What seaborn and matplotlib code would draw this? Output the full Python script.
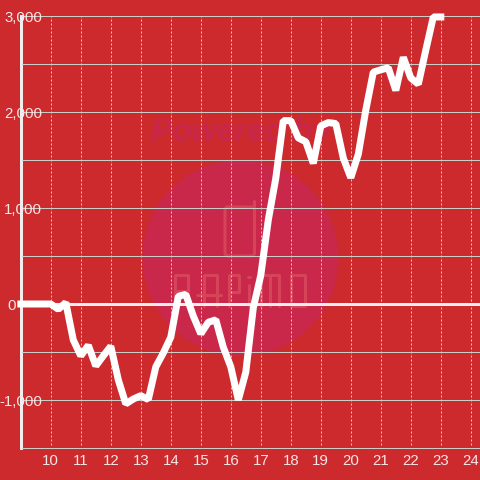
import matplotlib
matplotlib.use("Agg")
import matplotlib.pyplot as plt
import seaborn as sns
import pandas as pd
from matplotlib.patches import Circle, FancyBboxPatch
from matplotlib.lines import Line2D
from matplotlib.transforms import Affine2D

hours = [9.0, 10.0, 10.25, 10.5, 10.75, 11.0, 11.25, 11.5, 11.75, 12.0, 12.25, 12.5, 12.75,
         13.0, 13.25, 13.5, 13.75, 14.0, 14.25, 14.5, 14.75, 15.0, 15.25, 15.5, 15.75,
         16.0, 16.25, 16.5, 16.75, 17.0, 17.25, 17.5, 17.75, 18.0, 18.25, 18.5, 18.75,
         19.0, 19.25, 19.5, 19.75, 20.0, 20.25, 20.5, 20.75, 21.0, 21.25, 21.5, 21.75,
         22.0, 22.25, 22.5, 22.75, 23.0]
values = [0, 0, -55, 15, -375, -540, -430, -645, -540, -440, -790, -1040, -990,
          -955, -995, -655, -510, -345, 80, 100, -125, -310, -190, -165, -450,
          -655, -1000, -710, -40, 300, 875, 1310, 1910, 1910, 1730, 1690, 1465,
          1855, 1890, 1880, 1520, 1315, 1560, 2020, 2415, 2440, 2460, 2225, 2570,
          2355, 2290, 2645, 2990, 2990]
x_ticks = [10, 11, 12, 13, 14, 15, 16, 17, 18, 19, 20, 21, 22, 23, 24]
y_ticks = [3000, 2500, 2000, 1500, 1000, 500, 0, -500, -1000, -1500]
y_labels = ["3,000", "", "2,000", "", "1,000", "", "", "", "-1,000", ""]
zero_label = "0"

BG = "#CC2A2D"
CIRCLE = "#C9284A"
MARK = "#D54459"
GRID = "#CDCDC8"
TXT = "#F8E6E6"
AXIS = "#F2EEEE"
PX = 0.72

sns.set_theme(style="white")
plt.rcParams["font.family"] = ["Liberation Sans", "DejaVu Sans"]
plt.rcParams["lines.scale_dashes"] = False

fig = plt.figure(figsize=(4.8, 4.8), dpi=100, facecolor=BG)
L, R, T, B = 22, 480, 16, 448
ax = fig.add_axes([L / 480, 1 - B / 480, (R - L) / 480, (B - T) / 480], facecolor=BG)
ax.set_xlim(10 - (50.8 - L) / 30, 10 + (R - 50.8) / 30)
ax.set_ylim(-1500, 3000)

# watermark, in picture pixels
px = Affine2D().scale(1 / 480, -1 / 480).translate(0, 1) + fig.transFigure
ax.add_patch(Circle((240.5, 258), 98, transform=px, fc=CIRCLE, ec="none", zorder=0.1, clip_on=False))
ax.text(241, 133, "Powered by", transform=px, ha="center", va="center", fontsize=23,
        fontweight="bold", style="italic", color="#C8274A", zorder=0.1)
strokes = [
    [(175, 306), (175, 275), (188, 275), (188, 291), (175, 291)], [(182, 291), (188, 306)],
    [(204, 306), (204, 275), (217, 275), (217, 306)], [(197, 295), (221, 295)],
    [(229, 306), (229, 275), (239, 275), (239, 292), (229, 292)],
    [(249, 285), (249, 306)], [(248, 277), (250, 277)],
    [(261, 306), (261, 275), (279, 275), (279, 306)], [(270, 275), (270, 306)],
    [(291, 275), (305, 275), (305, 306), (291, 306), (291, 275)],
    [(254, 201), (254, 208)],
]
for s in strokes:
    xs, ys = zip(*s)
    ax.add_line(Line2D(xs, ys, transform=px, color=MARK, lw=3 * PX, zorder=0.2,
                       solid_capstyle="round", solid_joinstyle="round", clip_on=False))
ax.add_patch(FancyBboxPatch((225, 207), 29.5, 49, boxstyle="round,pad=0,rounding_size=3", transform=px,
                            fc="none", ec=MARK, lw=3 * PX, zorder=0.2))

df = pd.DataFrame({"hour": hours, "value": values})
sns.lineplot(data=df, x="hour", y="value", ax=ax, color="white", linewidth=7 * PX, estimator=None,
             sort=False, clip_on=False, zorder=3, solid_capstyle="projecting", solid_joinstyle="bevel")
ax.axhline(0, xmin=0, xmax=1, color=AXIS, lw=3 * PX, zorder=1.7)

ax.set_xlabel("")
ax.set_ylabel("")
ax.set_xticks(x_ticks)
ax.set_yticks(y_ticks)
ax.set_yticklabels(y_labels)
ax.set_axisbelow("line")
ax.tick_params(axis="both", length=0, labelsize=10.8, labelcolor=TXT)
ax.tick_params(axis="x", pad=4.5)
ax.tick_params(axis="y", pad=-21.5 * PX)
ax.grid(axis="y", color=GRID, lw=1 * PX)
ax.grid(axis="x", color=GRID, lw=1 * PX, linestyle=(0, (2 * PX, 2 * PX)))
for tick in ax.xaxis.get_major_ticks():
    tick.gridline.set_ydata([3 / 432, 1])

for tick, lab in zip(ax.yaxis.get_major_ticks(), y_labels):
    if lab:
        tick.label1.set_bbox(dict(facecolor=BG, edgecolor="none", boxstyle="square,pad=0.1"))
ax.annotate(zero_label, xy=(0, 0), xycoords=("axes fraction", "data"), xytext=(-6 * PX, 0),
            textcoords="offset points", ha="right", va="center_baseline", fontsize=10.8,
            color=TXT, annotation_clip=False)

for side in ("top", "right"):
    ax.spines[side].set_visible(False)
ax.spines["bottom"].set_color(GRID)
ax.spines["bottom"].set_linewidth(1 * PX)
ax.spines["left"].set_color(AXIS)
ax.spines["left"].set_linewidth(3 * PX)
ax.spines["left"].set_position(("outward", 1.5 * PX))
ax.spines["left"].set_zorder(1)

fig.savefig("out.png", dpi=100, facecolor=BG)
